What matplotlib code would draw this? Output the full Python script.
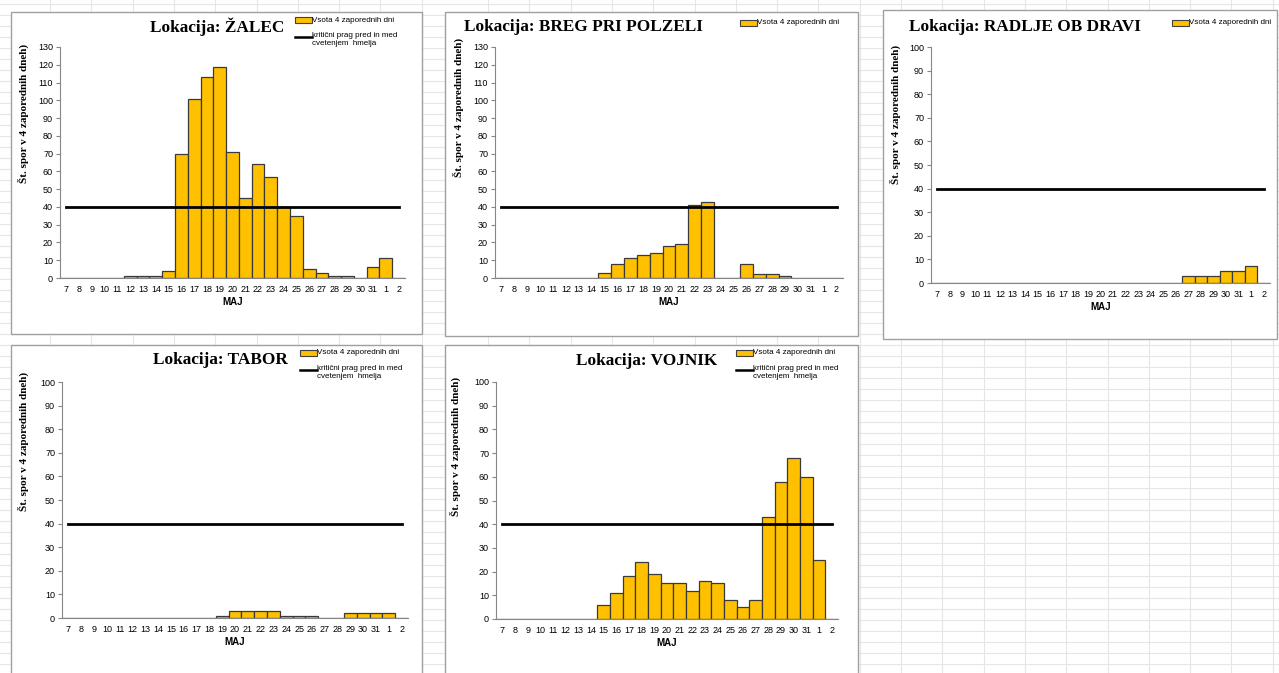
import matplotlib.pyplot as plt
from matplotlib.patches import Rectangle

W, H = 1279, 673

days = [str(d) for d in range(7, 32)] + ["1", "2"]
threshold = [40] * len(days)

zalec = [0, 0, 0, 0, 0, 1, 1, 1, 4, 70, 101, 113, 119, 71, 45, 64, 57, 40, 35, 5, 3, 1, 1, 0, 6, 11, 0]
breg = [0, 0, 0, 0, 0, 0, 0, 0, 3, 8, 11, 13, 14, 18, 19, 41, 43, 0, 0, 8, 2, 2, 1, 0, 0, 0, 0]
radlje = [0, 0, 0, 0, 0, 0, 0, 0, 0, 0, 0, 0, 0, 0, 0, 0, 0, 0, 0, 0, 3, 3, 3, 5, 5, 7, 0]
tabor = [0, 0, 0, 0, 0, 0, 0, 0, 0, 0, 0, 0, 1, 3, 3, 3, 3, 1, 1, 1, 0, 0, 2, 2, 2, 2, 0]
vojnik = [0, 0, 0, 0, 0, 0, 0, 0, 6, 11, 18, 24, 19, 15, 15, 12, 16, 15, 8, 5, 8, 43, 58, 68, 60, 25, 0]

bar_label = "Vsota 4 zaporednih dni"
line_label = "kritični prag pred in med\ncvetenjem  hmelja"
ylab = "Št. spor v 4 zaporednih dneh)"

# chart: (title, values, ymax, box, plot area, title pos, ylabel pos, legend pos, show line legend)
charts = [
    ("Lokacija: ŽALEC", zalec, 130, (11, 12, 422, 334), (60, 47, 405, 278), (217, 27), (23, 113), (295, 20), True),
    ("Lokacija: BREG PRI POLZELI", breg, 130, (445, 12, 858, 336), (495, 47, 843, 278), (583, 27), (458, 107), (740, 23), False),
    ("Lokacija: RADLJE OB DRAVI", radlje, 100, (883, 10, 1277, 339), (931, 47, 1270, 283), (1025, 27), (895, 114), (1172, 23), False),
    ("Lokacija: TABOR", tabor, 100, (11, 345, 422, 690), (62, 382, 408, 618), (220, 360), (23, 441), (300, 353), True),
    ("Lokacija: VOJNIK", vojnik, 100, (445, 345, 858, 690), (496, 382, 838, 619), (647, 361), (455, 446), (736, 353), True),
]

fig = plt.figure(figsize=(W / 100, H / 100), dpi=100)
bg = fig.add_axes([0, 0, 1, 1])
bg.set_xlim(0, W)
bg.set_ylim(H, 0)
bg.axis("off")

# excel sheet grid
for y in range(345 - 11 * 40, H + 11, 11):
    bg.plot([0, W], [y, y], color="#e6e6e6", lw=0.8, zorder=0)
for x in [50 + 41.3 * k for k in range(10)] + [488 + 41.3 * k for k in range(20)]:
    bg.plot([x, x], [0, H], color="#e6e6e6", lw=0.8, zorder=0)

for title, vals, ymax, box, area, tpos, ypos, lpos, show_line in charts:
    bx0, by0, bx1, by1 = box
    bg.add_patch(Rectangle((bx0, by0), bx1 - bx0, by1 - by0, facecolor="white",
                           edgecolor="#a0a0a0", lw=1.0, zorder=1))
    bg.text(tpos[0], tpos[1], title, family="Liberation Serif", weight="bold",
            fontsize=12.4, ha="center", va="center", zorder=2)
    bg.text(ypos[0], ypos[1], ylab, family="Liberation Serif", weight="bold",
            fontsize=8, rotation=90, ha="center", va="center", zorder=2)
    lx, ly = lpos
    bg.add_patch(Rectangle((lx, ly - 3), 17, 6, facecolor="#FFC000", edgecolor="#404040",
                           lw=0.8, zorder=2))
    bg.text(lx + 17, ly, bar_label, family="Liberation Sans", fontsize=5.8,
            ha="left", va="center", zorder=2)
    if show_line:
        bg.plot([lx, lx + 17], [ly + 17, ly + 17], color="black", lw=1.8, zorder=2)
        bg.text(lx + 17, ly + 12, line_label, family="Liberation Sans", fontsize=5.8,
                ha="left", va="top", linespacing=1.15, zorder=2)

    px0, py0, px1, py1 = area
    ax = fig.add_axes([px0 / W, 1 - py1 / H, (px1 - px0) / W, (py1 - py0) / H])
    ax.patch.set_alpha(0)
    ax.bar(range(len(days)), vals, width=1.0, color="#FFC000", edgecolor="#3a3a3a", lw=0.9)
    ax.plot(range(len(days)), threshold, color="black", lw=2.0)
    ax.set_xlim(-0.5, len(days) - 0.5)
    ax.set_ylim(0, ymax)
    ax.set_yticks(range(0, ymax + 1, 10))
    ax.set_xticks(range(len(days)))
    ax.set_xticklabels(days)
    ax.tick_params(axis="y", length=3, width=0.8, color="#868686", labelsize=6.5, pad=2)
    ax.tick_params(axis="x", length=0, labelsize=6.5, pad=5)
    for lab in ax.get_xticklabels() + ax.get_yticklabels():
        lab.set_family("Liberation Sans")
    for s in ["top", "right"]:
        ax.spines[s].set_visible(False)
    for s in ["left", "bottom"]:
        ax.spines[s].set_color("#868686")
        ax.spines[s].set_linewidth(0.8)
    ax.set_xlabel("MAJ", family="Liberation Sans", weight="bold", fontsize=7, labelpad=2)

fig.savefig("out.png", dpi=100)
